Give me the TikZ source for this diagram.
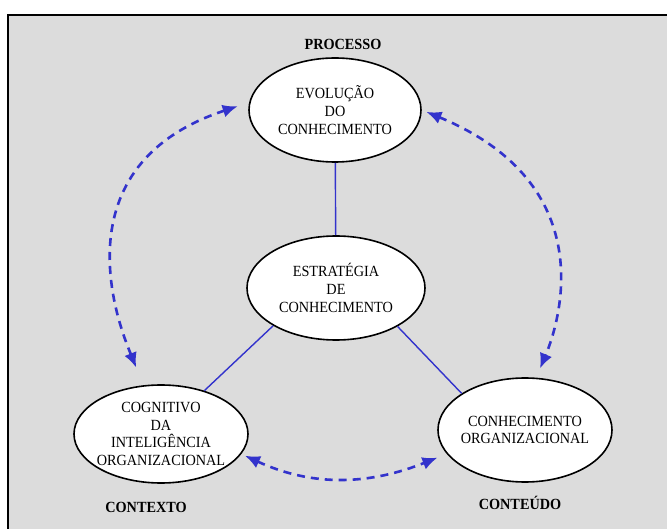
\documentclass[tikz,border=0pt]{standalone}
\usepackage{fontspec}
\setmainfont{Liberation Serif}[FakeStretch=0.92]
\usetikzlibrary{shapes.geometric,arrows.meta}
\definecolor{fundo}{HTML}{DCDCDC}
\definecolor{azul}{HTML}{3333CC}

\begin{document}
\begin{tikzpicture}[x=1pt,y=-1pt,
	bloco/.style={ellipse,draw=black,line width=1.6pt,fill=white,inner xsep=-20pt,inner ysep=-10pt,align=center,
		font=\fontsize{15.5}{17.7}\selectfont},
	rotulo/.style={font=\fontsize{15.5}{17.7}\selectfont\bfseries},
	liga/.style={draw=azul,line width=1.4pt},
	ciclo/.style={draw=azul,line width=2.6pt,dash pattern=on 8pt off 6pt,
		{Latex[length=15pt,width=13pt]}-{Latex[length=15pt,width=13pt]}}]
	\useasboundingbox (0,0) rectangle (667,529);
	\clip (0,0) rectangle (667,529);
	\fill[white] (0,0) rectangle (667,529);
	\draw[fill=fundo,line width=2pt] (8,15) rectangle (680,540);
	\node[rotulo] (processo) at (343,44) {PROCESSO};
	\node[rotulo] (contexto) at (146,507) {CONTEXTO};
	\node[rotulo] (conteudo) at (520,503) {CONTEÚDO};
	\node[bloco,minimum width=172pt,minimum height=104pt] (evol) at (335,110) {EVOLUÇÃO\\DO\\CONHECIMENTO};
	\node[bloco,minimum width=178pt,minimum height=104pt] (estr) at (336,288) {ESTRATÉGIA\\DE\\CONHECIMENTO};
	\node[bloco,minimum width=174pt,minimum height=98pt] (cogn) at (161,434) {COGNITIVO\\DA\\INTELIGÊNCIA\\ORGANIZACIONAL};
	\node[bloco,minimum width=174pt,minimum height=104pt] (conh) at (525,430) {CONHECIMENTO\\ORGANIZACIONAL};
	\draw[liga] (evol) -- (estr);
	\draw[liga] (estr.211) -- (cogn.45);
	\draw[liga] (estr.-32) -- (conh.150);
	\draw[ciclo,shorten <=12pt,shorten >=19pt] (evol.175) .. controls +(-200,66) and +(-18,-45) .. (cogn.110);
	\draw[ciclo,shorten <=5pt,shorten >=10pt] (evol.0) .. controls +(179,74) and +(24.6,-58) .. (conh.78);
	\draw[ciclo,shorten <=4pt,shorten >=10pt] (cogn.-14) .. controls +(73.7,34) and +(-75,30) .. (conh.197);
\end{tikzpicture}
\end{document}
